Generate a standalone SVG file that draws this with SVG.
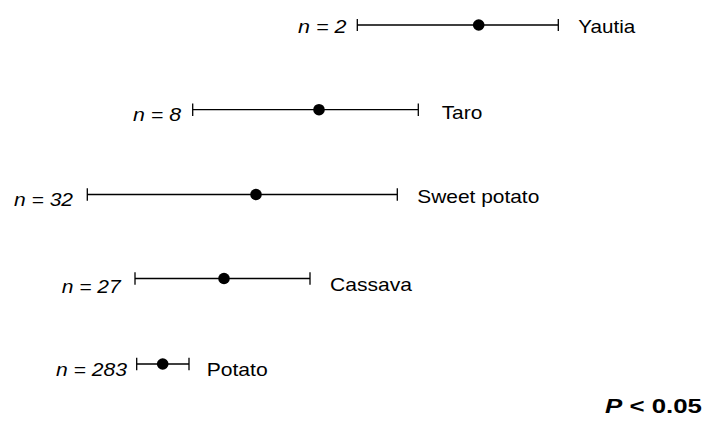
<svg xmlns="http://www.w3.org/2000/svg" width="705" height="424" viewBox="0 0 705 424">
<style>
.lbl{font-family:"Liberation Sans",Arial,sans-serif;font-size:18.5px;fill:#000}
.n{font-style:italic}
.bar{stroke:#000;stroke-width:1.3;fill:none}
.dot{fill:#000}
.p{font-family:"Liberation Sans",Arial,sans-serif;font-size:21px;font-weight:bold;fill:#000}
</style>
<rect width="705" height="424" fill="#fff"/>
<g id="yautia">
<path class="bar" d="M357.3 25H558.3M357.3 19V31M558.3 19V31"/>
<circle class="dot" cx="478.7" cy="25" r="5.8"/>
<text class="lbl n" x="298" y="33" textLength="48.5" lengthAdjust="spacingAndGlyphs">n = 2</text>
<text class="lbl" x="578.3" y="33" textLength="57" lengthAdjust="spacingAndGlyphs">Yautia</text>
</g>
<g id="taro">
<path class="bar" d="M192.7 109.7H418.3M192.7 103.4V116M418.3 103.4V116"/>
<circle class="dot" cx="319" cy="109.7" r="5.8"/>
<text class="lbl n" x="133" y="120.5" textLength="48" lengthAdjust="spacingAndGlyphs">n = 8</text>
<text class="lbl" x="441.7" y="119.3" textLength="40.6" lengthAdjust="spacingAndGlyphs">Taro</text>
</g>
<g id="sweet-potato">
<path class="bar" d="M87.3 194.5H397.3M87.3 188.2V200.8M397.3 188.2V200.8"/>
<circle class="dot" cx="256" cy="194.5" r="5.8"/>
<text class="lbl n" x="14" y="206" textLength="59" lengthAdjust="spacingAndGlyphs">n = 32</text>
<text class="lbl" x="417.3" y="203.3" textLength="122" lengthAdjust="spacingAndGlyphs">Sweet potato</text>
</g>
<g id="cassava">
<path class="bar" d="M135 278.5H310M135 272.2V284.8M310 272.2V284.8"/>
<circle class="dot" cx="224" cy="278.5" r="5.8"/>
<text class="lbl n" x="61.7" y="293" textLength="59" lengthAdjust="spacingAndGlyphs">n = 27</text>
<text class="lbl" x="330" y="291" textLength="82" lengthAdjust="spacingAndGlyphs">Cassava</text>
</g>
<g id="potato">
<path class="bar" d="M136.7 364H189M136.7 357.7V370.3M189 357.7V370.3"/>
<circle class="dot" cx="162.7" cy="364" r="5.8"/>
<text class="lbl n" x="56" y="376" textLength="71" lengthAdjust="spacingAndGlyphs">n = 283</text>
<text class="lbl" x="206.7" y="376" textLength="61" lengthAdjust="spacingAndGlyphs">Potato</text>
</g>
<g id="connectors"/>
<text class="p" x="605" y="412.5" textLength="97" lengthAdjust="spacingAndGlyphs"><tspan font-style="italic">P</tspan> &lt; 0.05</text>
</svg>
